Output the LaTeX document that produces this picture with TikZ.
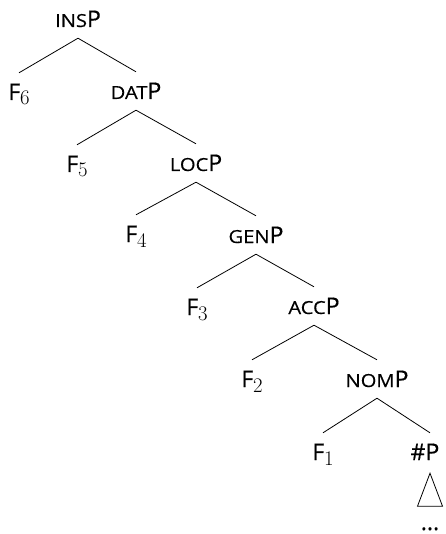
\documentclass[tikz,border=0pt]{standalone}
\usepackage{fontspec}
\setmainfont[FakeBold=0.4]{Open Sans}
\newfontfamily\scfont[FakeStretch=1.12,FakeBold=0.4]{Open Sans}
\newcommand{\mysc}[1]{{\scfont\fontsize{18}{20}\selectfont #1}}
\newcommand{\fsub}[1]{F\raisebox{-5pt}{\fontsize{20}{20}\selectfont$#1$}}
\begin{document}
\begin{tikzpicture}[x=1pt,y=-1pt,
  lab/.style={anchor=base,inner sep=0pt,text height=27pt,text depth=11pt,font=\fontsize{23}{26}\selectfont},
  edge/.style={line width=0.8pt}]
\useasboundingbox (0,0) rectangle (445,534);
\node[lab] (ins) at (78,27) {\mysc{INS}P};
\node[lab] (f6) at (19,100) {\fsub{6}};
\node[lab] (dat) at (136,99) {\mysc{DAT}P};
\node[lab] (f5) at (77,172) {\fsub{5}};
\node[lab] (loc) at (196,171) {\mysc{LOC}P};
\node[lab] (f4) at (136,242) {\fsub{4}};
\node[lab] (gen) at (256,243) {\mysc{GEN}P};
\node[lab] (f3) at (197,315) {\fsub{3}};
\node[lab] (acc) at (314,314) {\mysc{ACC}P};
\node[lab] (f2) at (252,387) {\fsub{2}};
\node[lab] (nom) at (377,387) {\mysc{NOM}P};
\node[lab] (f1) at (323,460) {\fsub{1}};
\node[lab] (num) at (425,460) {\#P};
\node[lab,text height=10pt,text depth=0pt] (dots) at (430,530) {...};
\draw[edge] (ins.south) -- (f6.north);
\draw[edge] (ins.south) -- (dat.north);
\draw[edge] (dat.south) -- (f5.north);
\draw[edge] (dat.south) -- (loc.north);
\draw[edge] (loc.south) -- (f4.north);
\draw[edge] (loc.south) -- (gen.north);
\draw[edge] (gen.south) -- (f3.north);
\draw[edge] (gen.south) -- (acc.north);
\draw[edge] (acc.south) -- (f2.north);
\draw[edge] (acc.south) -- (nom.north);
\draw[edge] (nom.south) -- (f1.north);
\draw[edge] (nom.south) -- ([xshift=5pt]num.north);
\draw[edge] ([xshift=5pt,yshift=-2pt]num.south) -- ++(-12.5,33) -- ++(25,0) -- cycle;
\end{tikzpicture}
\end{document}
